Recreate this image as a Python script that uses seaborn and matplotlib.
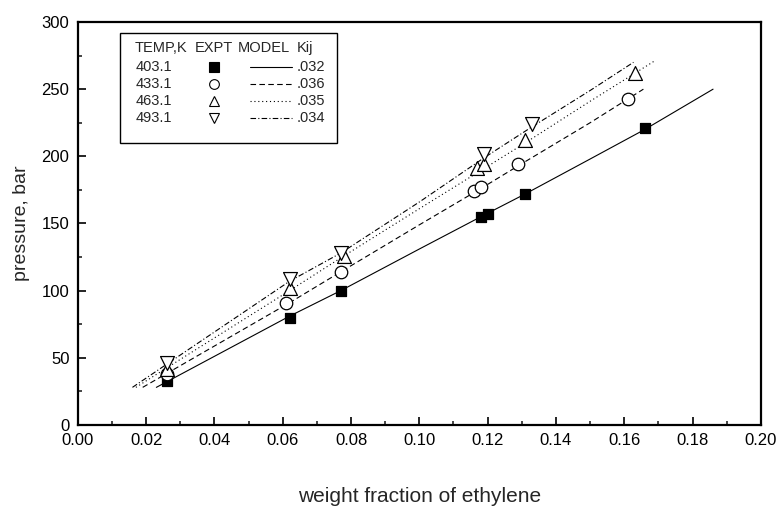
import matplotlib
matplotlib.use("Agg")
import matplotlib.pyplot as plt
import seaborn as sns
import pandas as pd
from matplotlib.patches import Rectangle

sns.set_theme(style="white")
plt.rcParams['font.family'] = ['Liberation Sans', 'DejaVu Sans']

# ---- data ----
temps = ["403.1", "433.1", "463.1", "493.1"]
kij = [".032", ".036", ".035", ".034"]

sq_x = [0.026, 0.062, 0.077, 0.118, 0.120, 0.131, 0.166]
sq_y = [33, 80, 100, 155, 157, 172, 221]
ci_x = [0.026, 0.061, 0.077, 0.116, 0.118, 0.129, 0.161]
ci_y = [38, 91, 114, 174, 177, 194, 243]
up_x = [0.026, 0.062, 0.078, 0.117, 0.119, 0.131, 0.163]
up_y = [42, 102, 126, 191, 194, 212, 262]
dn_x = [0.026, 0.062, 0.077, 0.119, 0.133]
dn_y = [46, 109, 128, 202, 224]

m1_x = [0.023, 0.062, 0.077, 0.100, 0.118, 0.131, 0.150, 0.166, 0.186]
m1_y = [28, 81, 100, 131, 155, 172, 198, 220, 250]
m2_x = [0.019, 0.062, 0.077, 0.100, 0.118, 0.129, 0.150, 0.1656]
m2_y = [28, 91, 114, 149, 176, 193, 225, 250]
m3_x = [0.017, 0.062, 0.078, 0.100, 0.119, 0.131, 0.150, 0.1686]
m3_y = [28, 100, 126, 161, 191, 210, 241, 270.6]
m4_x = [0.016, 0.062, 0.077, 0.100, 0.119, 0.133, 0.150, 0.1627]
m4_y = [28, 107, 128, 166, 199, 222, 249, 270]

fig = plt.figure(figsize=(7.78, 5.12), dpi=100)
ax = fig.add_axes([0.100, 0.170, 0.878, 0.787])

styles = ["-", (0, (5, 3)), (0, (1, 2.5)), (0, (5, 2, 1, 2))]
models = [(m1_x, m1_y), (m2_x, m2_y), (m3_x, m3_y), (m4_x, m4_y)]
for (mx, my), ls in zip(models, styles):
    df = pd.DataFrame({"x": mx, "y": my})
    sns.lineplot(data=df, x="x", y="y", ax=ax, color="black", lw=0.8,
                 sort=False, estimator=None)
    ax.lines[-1].set_linestyle(ls)

mk = [("s", "black", sq_x, sq_y, 7.5), ("o", "white", ci_x, ci_y, 9),
      ("^", "white", up_x, up_y, 10), ("v", "white", dn_x, dn_y, 10)]
for m, fc, xs, ys, s in mk:
    df = pd.DataFrame({"x": xs, "y": ys})
    sns.scatterplot(data=df, x="x", y="y", ax=ax, marker=m, s=s**2,
                    facecolor=fc, edgecolor="black", linewidth=0.9, zorder=5)

ax.set_xlim(0, 0.20)
ax.set_ylim(0, 300)
ax.set_xticks([i * 0.02 for i in range(11)])
ax.set_xticks([i * 0.01 for i in range(21)], minor=True)
ax.set_yticks(range(0, 301, 50))
ax.set_yticks(range(0, 301, 25), minor=True)
ax.set_xticklabels([f"{i*0.02:.2f}" for i in range(11)])
ax.tick_params(axis="both", which="major", direction="in", length=6, width=1.2,
               labelsize=12, colors="black", bottom=True, left=True, pad=6)
ax.tick_params(axis="both", which="minor", direction="in", length=3, width=1.2,
               bottom=True, left=True)
for sp in ax.spines.values():
    sp.set_linewidth(1.6)
    sp.set_color("black")
ax.set_xlabel("weight fraction of ethylene", fontsize=15, labelpad=28)
ax.set_ylabel("pressure, bar", fontsize=14, labelpad=8)

# legend table
tr = ax.transAxes
ax.add_patch(Rectangle((0.062, 0.70), 0.317, 0.273, transform=tr, fill=False,
                       edgecolor="black", lw=1.0, zorder=6))
hy = 0.935
fs = 10.5
for txt, cx in [("TEMP,K", 0.121), ("EXPT", 0.199), ("MODEL", 0.272), ("Kij", 0.332)]:
    ax.text(cx, hy, txt, transform=tr, ha="center", va="center", fontsize=fs)
rows = [0.888, 0.846, 0.804, 0.762]
mks = [("s", "black"), ("o", "white"), ("^", "white"), ("v", "white")]
for i, ry in enumerate(rows):
    ax.text(0.112, ry, temps[i], transform=tr, ha="center", va="center", fontsize=fs)
    ax.plot([0.199], [ry], transform=tr, marker=mks[i][0], mfc=mks[i][1], mec="black",
            ms=7, mew=0.8, ls="none")
    ax.plot([0.252, 0.313], [ry, ry], transform=tr, color="black", lw=0.8,
            linestyle=styles[i])
    ax.text(0.341, ry, kij[i], transform=tr, ha="center", va="center", fontsize=fs)

fig.savefig("out.png", dpi=100)
